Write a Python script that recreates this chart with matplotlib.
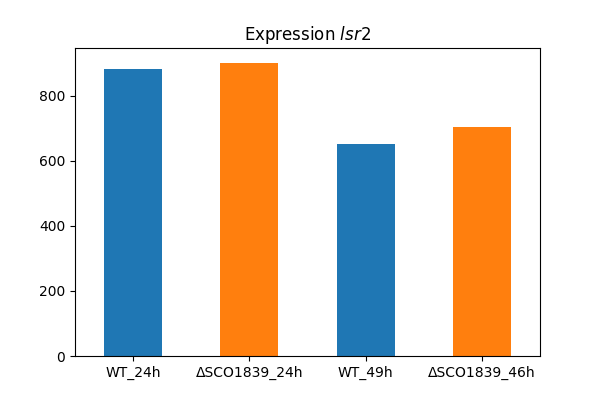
import matplotlib
matplotlib.use("Agg")
import matplotlib.pyplot as plt
import numpy as np

samples = ["WT_24h", "\u0394SCO1839_24h", "WT_49h", "\u0394SCO1839_46h"]
expression = [881, 902, 652, 705]
colors = ["tab:blue", "tab:orange", "tab:blue", "tab:orange"]

fig, ax = plt.subplots(figsize=(6, 4), dpi=100)
x = np.arange(len(samples))
ax.bar(x, expression, width=0.5, color=colors)
ax.set_xticks(x, samples)
ax.set_xlim(-0.5, len(samples) - 0.5)
ax.set_title(r"Expression $\it{lsr}$2")

fig.savefig("out.png", dpi=100)
